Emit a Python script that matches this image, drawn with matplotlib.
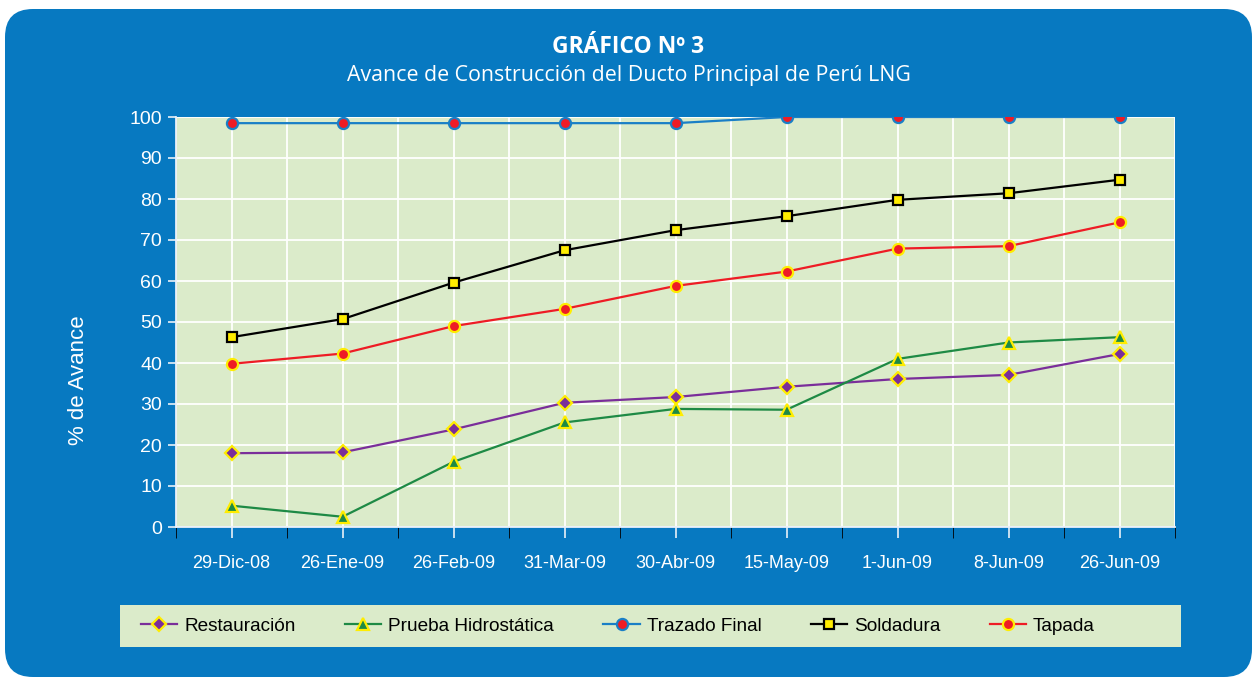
import numpy as np
import matplotlib.pyplot as plt
from matplotlib.patches import FancyBboxPatch, Rectangle
from matplotlib.transforms import IdentityTransform

plt.rcParams["font.family"] = ["Liberation Sans", "DejaVu Sans"]

fechas = ["29-Dic-08", "26-Ene-09", "26-Feb-09", "31-Mar-09", "30-Abr-09",
          "15-May-09", "1-Jun-09", "8-Jun-09", "26-Jun-09"]
restauracion = [18.0, 18.2, 23.8, 30.3, 31.7, 34.2, 36.1, 37.1, 42.2]
prueba_hidro = [5.2, 2.5, 15.9, 25.5, 28.8, 28.6, 41.0, 45.0, 46.3]
trazado_final = [98.5, 98.5, 98.5, 98.5, 98.5, 100, 100, 100, 100]
soldadura = [46.3, 50.7, 59.6, 67.5, 72.4, 75.8, 79.8, 81.4, 84.7]
tapada = [39.8, 42.3, 49.0, 53.2, 58.8, 62.3, 67.9, 68.5, 74.3]

BLUE = "#0779c1"
GREEN_BG = "#dbebca"
YELLOW = "#ffed00"

W, H = 1257, 681
fig = plt.figure(figsize=(W / 100, H / 100), dpi=100, facecolor="white")

# rounded blue panel behind everything
panel = FancyBboxPatch((5, 4), W - 10, H - 13,
                       boxstyle="round,pad=0,rounding_size=28",
                       transform=IdentityTransform(), facecolor=BLUE,
                       edgecolor="none", zorder=-10)
fig.patches.append(panel)
# legend strip
strip = Rectangle((120 / W, 1 - 647 / H), 1061 / W, 42 / H,
                  transform=fig.transFigure, facecolor=GREEN_BG,
                  edgecolor="none", zorder=-5)
fig.patches.append(strip)

fig.text(0.5, 1 - 47 / H, "GRÁFICO Nº 3", color="white", fontsize=16.5,
         fontweight="bold", ha="center", va="center",
         family=["Open Sans", "DejaVu Sans"])
fig.text(0.5, 1 - 75 / H, "Avance de Construcción del Ducto Principal de Perú LNG",
         color="white", fontsize=15.4, ha="center", va="center",
         family=["Open Sans", "DejaVu Sans"])

ax = fig.add_axes([176 / W, 1 - 527 / H, 999 / W, 410 / H])
ax.set_facecolor(GREEN_BG)
x = np.arange(len(fechas))

series = [
    ("Restauración", restauracion, "#7a2e9a", "D", "#7a2e9a", YELLOW, 7),
    ("Prueba Hidrostática", prueba_hidro, "#1e8a45", "^", "#1e8a45", YELLOW, 8),
    ("Trazado Final", trazado_final, "#1a7fc6", "o", "#ee1c25", "#1a7fc6", 8),
    ("Soldadura", soldadura, "black", "s", YELLOW, "black", 7.5),
    ("Tapada", tapada, "#ee1c25", "o", "#ee1c25", YELLOW, 8),
]
for name, vals, lc, mk, mfc, mec, ms in series:
    ax.plot(x, vals, color=lc, lw=1.6, marker=mk, markerfacecolor=mfc,
            markeredgecolor=mec, markeredgewidth=1.6, ms=ms, label=name, zorder=3)

ax.set_xlim(-0.5, len(fechas) - 0.5)
ax.set_ylim(0, 100)
ax.set_yticks(np.arange(0, 101, 10))
ax.set_xticks(x)
ax.set_xticklabels(fechas)
ax.set_xticks(np.arange(-0.5, len(fechas)), minor=True)
ax.grid(True, which="both", color="white", lw=1.3, zorder=1)
ax.set_axisbelow(True)
ax.tick_params(colors="#e8f0f8", labelcolor="white", width=1.2)
ax.tick_params(axis="x", which="both", length=8, pad=12, labelsize=13)
ax.tick_params(axis="y", length=6, pad=4, labelsize=14)
for s in ["top", "right"]:
    ax.spines[s].set_visible(False)
for s in ["left", "bottom"]:
    ax.spines[s].set_color("#e8f0f8")
    ax.spines[s].set_linewidth(1.3)

fig.text(78 / W, 1 - 380 / H, "% de Avance", rotation=90, color="white",
         fontsize=16, ha="center", va="center")

handles, labels = ax.get_legend_handles_labels()
leg = fig.legend(handles, labels, loc="center left",
                 bbox_to_anchor=(141 / W, 1 - 626 / H), ncol=5, frameon=False,
                 fontsize=13.7, handlelength=1.9, handletextpad=0.37,
                 columnspacing=2.6, borderaxespad=0, borderpad=0)

fig.savefig("out.png", dpi=100, facecolor="white")
